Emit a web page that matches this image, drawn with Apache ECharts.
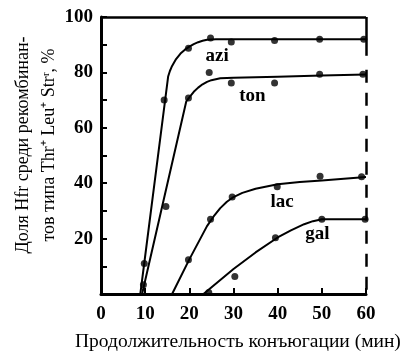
<!DOCTYPE html>
<html><head><meta charset="utf-8">
<script src="https://cdn.jsdelivr.net/npm/echarts@6/dist/echarts.min.js"></script>
<style>html,body{margin:0;padding:0;background:#fff}#c{width:409px;height:363px}</style>
</head><body><div id="c"></div>
<script>
// Measured points
const aziPts = [[9.8,11],[14.3,70],[19.8,88.7],[24.8,92.4],[29.5,91],[39.3,91.5],[49.5,92],[59.5,92]];
const tonPts = [[9.6,3.3],[14.7,31.6],[19.8,70.8],[24.5,80],[29.5,76.2],[39.3,76.2],[49.5,79.3],[59.3,79.3]];
const lacPts = [[19.8,12.4],[24.8,27],[29.7,35],[39.9,38.7],[49.6,42.5],[59,42.3]];
const galPts = [[24.4,0.5],[30.3,6.3],[39.5,20.3],[50,27],[59.8,27]];
// Fitted curves
const aziFit = [[8.9,0],[15.2,78.5],[15.6,80.5],[16,82],[17,84.8],[18,86.8],[19,88.2],[20,89.3],[21,90.2],[22,90.9],[23,91.4],[24,91.8],[26,92],[60,92]];
const tonFit = [[9.3,0],[19.3,69.5],[20,71],[21,73],[22,74.5],[23,75.7],[24,76.6],[25,77.2],[27,77.9],[30,78.1],[40,78.4],[50,78.9],[60,79.2]];
const lacFit = [[16.1,0],[20,12.5],[24,24.5],[25.5,28],[27,31],[28.5,33.3],[30,35],[32,36.5],[35,38],[40,39.6],[45,40.4],[50,41],[55,41.6],[60,42.2]];
const galFit = [[23.2,0],[30,9],[35,15],[40,20.4],[43,23],[46,25.2],[48,26.3],[50,27],[60,27]];
const curveNames = ['azi','ton','lac','gal'];
const xTicks = [0,10,20,30,40,50,60];
const yTickLabels = [20,40,60,80,100];

const F = '"Liberation Serif","Times New Roman",serif';
const chart = echarts.init(document.getElementById('c'));
const fits = [aziFit,tonFit,lacFit,galFit];
const pts = [aziPts,tonPts,lacPts,galPts];
const labelAt = [[26.3,86],[34.3,71.6],[41,33],[49,21.8]];
const series = [];
fits.forEach((f,i)=>{
  series.push({type:'line',data:f,smooth:false,showSymbol:false,symbol:'none',
    lineStyle:{color:'#000',width:2,join:'round'},silent:true,z:3,
    markPoint:{symbol:'rect',symbolSize:1,itemStyle:{color:'rgba(0,0,0,0)'},
      label:{show:true,formatter:curveNames[i],color:'#000',fontFamily:F,fontWeight:'bold',fontSize:19},
      data:[{coord:labelAt[i]}]}});
  series.push({type:'scatter',data:pts[i],symbol:'circle',symbolSize:7,itemStyle:{color:'#000'},z:4});
});
// frame: top border and dashed right border
series.push({type:'line',data:[],markLine:{silent:true,symbol:'none',label:{show:false},
  lineStyle:{color:'#000',width:2.5,type:'solid'},
  data:[[{coord:[0,100]},{coord:[60,100]}],[{coord:[60,100]},{coord:[60,86]}]]}});
series.push({type:'line',data:[],markLine:{silent:true,symbol:'none',label:{show:false},
  lineStyle:{color:'#000',width:2.5,type:[13,10]},
  data:[[{coord:[60,81]},{coord:[60,0]}]]}});

chart.setOption({
  animation:false,
  grid:{left:101,right:43,top:17,bottom:69},
  xAxis:{type:'value',min:0,max:60,interval:10,
    axisLine:{lineStyle:{color:'#000',width:3}},
    axisTick:{inside:true,length:6,lineStyle:{color:'#000',width:2}},
    splitLine:{show:false},
    axisLabel:{color:'#000',fontFamily:F,fontWeight:'bold',fontSize:19,margin:11,
      formatter:v=>xTicks.includes(v)?String(v):''}},
  yAxis:{type:'value',min:0,max:100,interval:10,
    axisLine:{show:true,lineStyle:{color:'#000',width:3}},
    axisTick:{show:true,inside:true,length:6,lineStyle:{color:'#000',width:2}},
    splitLine:{show:false},
    axisLabel:{color:'#000',fontFamily:F,fontWeight:'bold',fontSize:19,margin:8,
      formatter:v=>yTickLabels.includes(v)?String(v):''}},
  graphic:[
    {type:'text',left:75,top:332,style:{text:'Продолжительность конъюгации (мин)',font:'19.5px '+F,fill:'#000'}},
    {type:'text',x:36,y:145,rotation:Math.PI/2,
     style:{text:'Доля Hfr среди рекомбинан-\nтов типа Thr⁺ Leu⁺ Strʳ, %',font:'18px '+F,fill:'#000',
       align:'center',verticalAlign:'middle',lineHeight:26}}
  ],
  series:series
});
</script></body></html>
